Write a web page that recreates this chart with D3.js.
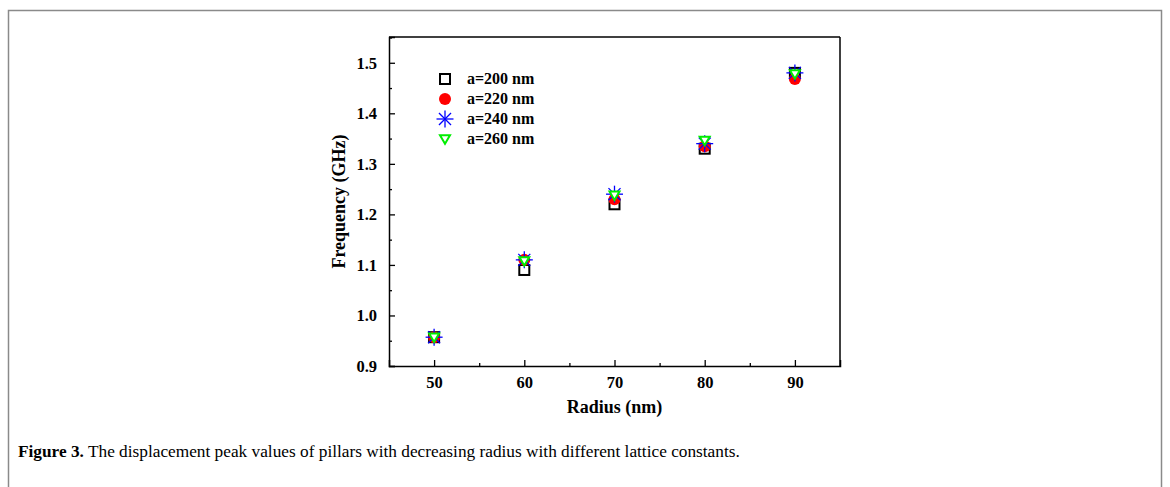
<!DOCTYPE html>
<html><head><meta charset="utf-8">
<script src="https://cdn.jsdelivr.net/npm/d3@7/dist/d3.min.js"></script>
<style>body{margin:0;background:#fff;} svg{display:block;}</style>
</head><body>
<svg id="c" width="1170" height="487"></svg>
<script>
const radii = [50, 60, 70, 80, 90];
const a200 = [0.957, 1.09, 1.22, 1.33, 1.48];
const a220 = [0.957, 1.11, 1.23, 1.335, 1.468];
const a240 = [0.957, 1.11, 1.24, 1.34, 1.48];
const a260 = [0.957, 1.108, 1.238, 1.346, 1.478];
const seriesNames = ["a=200 nm", "a=220 nm", "a=240 nm", "a=260 nm"];
const xTicks = [50, 60, 70, 80, 90];
const yTicks = [0.9, 1.0, 1.1, 1.2, 1.3, 1.4, 1.5];
const xLabel = "Radius (nm)";
const yLabel = "Frequency (GHz)";
const captionBold = "Figure 3.";
const captionText = " The displacement peak values of pillars with decreasing radius with different lattice constants.";

const svg = d3.select("#c");
const font = "'Liberation Serif','Times New Roman',serif";

// outer frame
svg.append("rect").attr("x", 8.5).attr("y", 10.5).attr("width", 1153).attr("height", 500)
  .attr("fill", "none").attr("stroke", "#8a8a8a").attr("stroke-width", 1.5);

const L = 389, R = 840, T = 37, B = 366;
const x = d3.scaleLinear().domain([45, 95]).range([L, R]);
const y = d3.scaleLinear().domain([0.9, 1.551]).range([B, T]);

// axes
const xAxis = d3.axisBottom(x).tickValues(xTicks).tickSize(-6).tickPadding(10).tickFormat(d3.format("d"));
svg.append("g").attr("transform", `translate(0,${B})`).call(xAxis);
const xMinor = d3.axisBottom(x).tickValues([55, 65, 75, 85]).tickSize(-3).tickFormat("");
svg.append("g").attr("transform", `translate(0,${B})`).call(xMinor).select(".domain").remove();

const yAxis = d3.axisLeft(y).tickValues(yTicks).tickSize(-6).tickPadding(12).tickFormat(d3.format(".1f"));
svg.append("g").attr("transform", `translate(${L},0)`).call(yAxis);
const yMinor = d3.axisLeft(y).tickValues([0.95, 1.05, 1.15, 1.25, 1.35, 1.45, 1.55]).tickSize(-3).tickFormat("");
svg.append("g").attr("transform", `translate(${L},0)`).call(yMinor).select(".domain").remove();

svg.selectAll(".tick line").attr("stroke", "#000").attr("stroke-width", 1.3);
svg.selectAll(".domain").attr("stroke", "#000").attr("stroke-width", 1.5);
svg.selectAll(".tick text").attr("font-family", font).attr("font-weight", "bold")
  .attr("font-size", 16.5).attr("fill", "#000");

// top and right frame
svg.append("line").attr("x1", L).attr("x2", R).attr("y1", T).attr("y2", T).attr("stroke", "#000").attr("stroke-width", 1.5);
svg.append("line").attr("x1", R).attr("x2", R).attr("y1", T).attr("y2", B).attr("stroke", "#000").attr("stroke-width", 1.5);

// axis titles
svg.append("text").attr("x", (L + R) / 2).attr("y", 413).attr("text-anchor", "middle")
  .attr("font-family", font).attr("font-weight", "bold").attr("font-size", 18).text(xLabel);
svg.append("text").attr("transform", `translate(345,${(T + B) / 2}) rotate(-90)`).attr("text-anchor", "middle")
  .attr("font-family", font).attr("font-weight", "bold").attr("font-size", 18).text(yLabel);

// markers
function drawMarker(g, type, cx, cy) {
  if (type === 0) {
    g.append("rect").attr("x", cx - 5).attr("y", cy - 5).attr("width", 10).attr("height", 10)
      .attr("fill", "none").attr("stroke", "#000").attr("stroke-width", 2);
  } else if (type === 1) {
    g.append("circle").attr("cx", cx).attr("cy", cy).attr("r", 6).attr("fill", "#ff0000");
  } else if (type === 2) {
    const r = 8.5;
    [0, 45, 90, 135].forEach(a => {
      const rad = a * Math.PI / 180;
      g.append("line").attr("x1", cx - r * Math.cos(rad)).attr("y1", cy - r * Math.sin(rad))
        .attr("x2", cx + r * Math.cos(rad)).attr("y2", cy + r * Math.sin(rad))
        .attr("stroke", "#0000ff").attr("stroke-width", 1.3);
    });
  } else {
    const s = 5;
    g.append("path").attr("d", `M${cx - s},${cy - s * 0.75}L${cx + s},${cy - s * 0.75}L${cx},${cy + s * 0.95}Z`)
      .attr("fill", "#fff").attr("stroke", "#00ee00").attr("stroke-width", 2);
  }
}
const allSeries = [a200, a220, a240, a260];
const gm = svg.append("g");
allSeries.forEach((vals, si) => {
  vals.forEach((v, i) => drawMarker(gm, si, x(radii[i]), y(v)));
});

// legend
const lg = svg.append("g");
seriesNames.forEach((n, i) => {
  const ly = 79 + i * 20;
  drawMarker(lg, i, 445, ly);
  lg.append("text").attr("x", 467).attr("y", ly + 5).attr("font-family", font)
    .attr("font-weight", "bold").attr("font-size", 16).text(n);
});

// caption
const cap = svg.append("text").attr("x", 18).attr("y", 457).attr("font-family", font).attr("font-size", 17.3);
cap.append("tspan").attr("font-weight", "bold").text(captionBold);
cap.append("tspan").text(captionText);
</script>
</body></html>
